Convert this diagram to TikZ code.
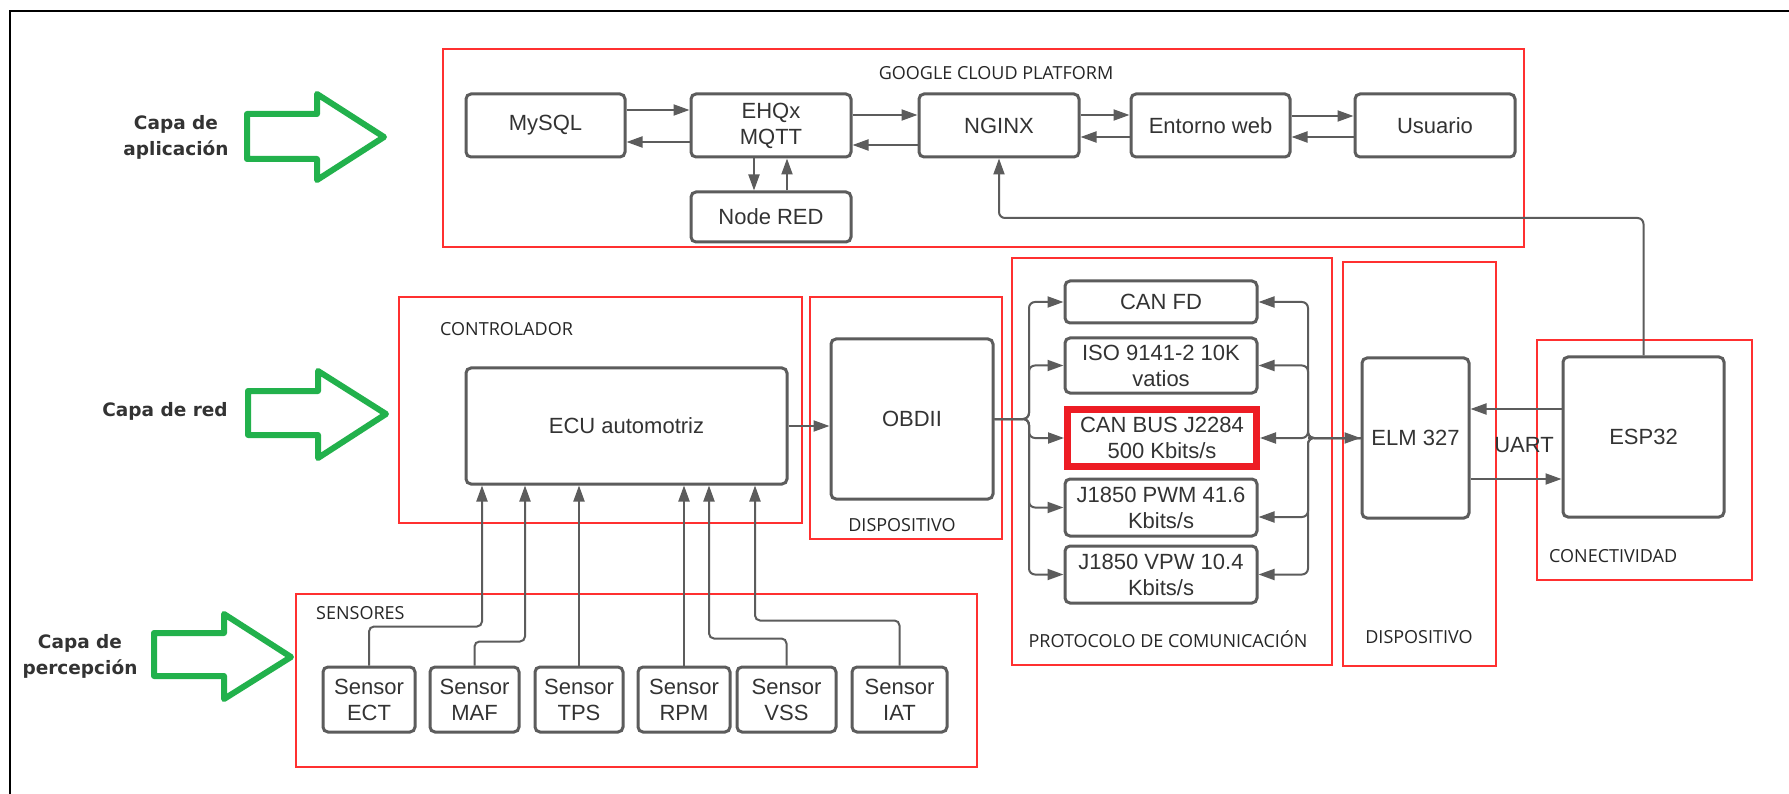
\documentclass[tikz,border=0pt]{standalone}
\usepackage{fontspec}
\setmainfont{Liberation Sans}
\newfontfamily\labfont{Open Sans}
\newfontfamily\capafont{DejaVu Sans}
\usetikzlibrary{arrows.meta}
\definecolor{boxgray}{HTML}{5C5C5C}
\definecolor{txt}{HTML}{333333}
\definecolor{grn}{HTML}{22B14C}
\definecolor{redc}{HTML}{FF3030}
\definecolor{canred}{HTML}{ED1C24}
\begin{document}
\begin{tikzpicture}[x=1pt,y=-1pt,
  blk/.style={draw=boxgray, line width=3pt, rounded corners=5pt, fill=white, text=txt, align=center, font=\fontsize{22}{26}\selectfont, inner sep=0pt},
  grp/.style={draw=redc, line width=1.4pt},
  lab/.style={font=\labfont\fontsize{18}{22}\selectfont, text=black!85, inner sep=0pt},
  arr/.style={draw=boxgray, line width=2pt, -{Triangle[length=16pt,width=11pt]}},
  capa/.style={font=\capafont\bfseries\fontsize{18.5}{26}\selectfont, text=txt, align=center},
  garrow/.style={draw=grn, line width=6pt, line join=round},
]
\useasboundingbox (0,0) rectangle (1789,794);
\fill[white] (0,0) rectangle (1789,794);
% outer frame
\draw[line width=2.5pt] (10,794) -- (10,11) -- (1789,11);

% group boxes
\draw[grp] (443,49) rectangle (1524,247);
\draw[grp] (399,297) rectangle (802,523);
\draw[grp] (810,297) rectangle (1002,539);
\draw[grp] (1012,258) rectangle (1332,665);
\draw[grp] (1343,262) rectangle (1496,666);
\draw[grp] (1537,340) rectangle (1752,580);
\draw[grp] (296,594) rectangle (977,767);

% group labels
\node[lab] (gcpl) at (996,73) {GOOGLE CLOUD PLATFORM};
\node[lab, anchor=west] (ctrll) at (440,329) {CONTROLADOR};
\node[lab] (d1l) at (902,525) {DISPOSITIVO};
\node[lab] (protl) at (1168,639) {PROTOCOLO DE COMUNICACIÓN};
\node[lab] (d2l) at (1419,637) {DISPOSITIVO};
\node[lab, anchor=west] (conl) at (1549,556) {CONECTIVIDAD};
\node[lab, anchor=west] (sensl) at (316,613) {SENSORES};

% layer labels and green arrows
\node[capa] (capa1) at (176,137) {Capa de\\aplicación};
\node[capa] (capa2) at (165,411) {Capa de red};
\node[capa] (capa3) at (80,656) {Capa de\\percepción};
\draw[garrow] (247,114) -- (317,114) -- (317,94) -- (384,137) -- (317,180) -- (317,159) -- (247,159) -- cycle;
\draw[garrow] (248,391) -- (318,391) -- (318,371) -- (386,414) -- (318,458) -- (318,435) -- (248,435) -- cycle;
\draw[garrow] (154,633) -- (224,633) -- (224,614) -- (291,657) -- (224,699) -- (224,676) -- (154,676) -- cycle;

% application layer
\node[blk, minimum width=159pt, minimum height=63pt] (mysql) at (545.5,125.5) {MySQL};
\node[blk, minimum width=160pt, minimum height=63pt] (ehqx) at (771,125.5) {EHQx\\MQTT};
\node[blk, minimum width=160pt, minimum height=63pt] (nginx) at (999,125.5) {NGINX};
\node[blk, minimum width=159pt, minimum height=63pt] (web) at (1210.5,125.5) {Entorno web};
\node[blk, minimum width=160pt, minimum height=63pt] (user) at (1435,125.5) {Usuario};
\node[blk, minimum width=160pt, minimum height=50pt] (nodered) at (771,217) {Node RED};

\draw[arr] ([yshift=15.5pt]mysql.east) -- ([yshift=15.5pt]ehqx.west);
\draw[arr] ([yshift=-16.5pt]ehqx.west) -- ([yshift=-16.5pt]mysql.east);
\draw[arr] ([yshift=10.5pt]ehqx.east) -- ([yshift=10.5pt]nginx.west);
\draw[arr] ([yshift=-19.5pt]nginx.west) -- ([yshift=-19.5pt]ehqx.east);
\draw[arr] ([yshift=10.5pt]nginx.east) -- ([yshift=10.5pt]web.west);
\draw[arr] ([yshift=-11.5pt]web.west) -- ([yshift=-11.5pt]nginx.east);
\draw[arr] ([yshift=9.5pt]web.east) -- ([yshift=9.5pt]user.west);
\draw[arr] ([yshift=-11.5pt]user.west) -- ([yshift=-11.5pt]web.east);
\draw[arr] ([xshift=-17pt]ehqx.south) -- ([xshift=-17pt]nodered.north);
\draw[arr] ([xshift=16pt]nodered.north) -- ([xshift=16pt]ehqx.south);

% network layer
\node[blk, minimum width=321pt, minimum height=116pt] (ecu) at (626.5,426) {ECU automotriz};
\node[blk, minimum width=162pt, minimum height=160pt] (obd) at (912,419) {OBDII};
\node[blk, minimum width=192pt, minimum height=42pt] (canfd) at (1161,302) {CAN FD};
\node[blk, minimum width=192pt, minimum height=55pt] (iso) at (1161,365.5) {ISO 9141-2 10K\\vatios};
\node[blk, draw=canred, line width=7pt, rounded corners=0pt, minimum width=189pt, minimum height=57pt] (canbus) at (1162,438) {CAN BUS J2284\\500 Kbits/s};
\node[blk, minimum width=192pt, minimum height=57pt] (pwm) at (1161,507.5) {J1850 PWM 41.6\\Kbits/s};
\node[blk, minimum width=192pt, minimum height=57pt] (vpw) at (1161,574.5) {J1850 VPW 10.4\\Kbits/s};
\node[blk, minimum width=107pt, minimum height=160pt] (elm) at (1415.5,438) {ELM 327};
\node[blk, minimum width=161pt, minimum height=160pt] (esp) at (1643.5,437) {ESP32};
\node[text=txt, font=\fontsize{22}{26}\selectfont, inner sep=0pt] (uart) at (1524,445) {UART};

\draw[arr] (ecu.east) -- (ecu.east -| obd.west);
\coordinate (jL) at (1029,419);
\foreach \b in {canfd,iso,canbus,pwm,vpw}
  \draw[arr, rounded corners=6pt] (obd.east) -- (jL) |- (\b.west);
\coordinate (jR) at (1308,438);
\draw[arr] (jR) -- (elm.west);
\foreach \b in {canfd,iso,canbus,vpw}
  \draw[arr, rounded corners=6pt] (elm.west) -- (jR) |- (\b.east);
\draw[arr, rounded corners=6pt] (elm.west) -- (jR) |- ([yshift=-9.5pt]pwm.east);

\coordinate (u1) at (0,409);
\coordinate (u2) at (0,479);
\draw[arr] (esp.west |- u1) -- (elm.east |- u1);
\draw[arr] (elm.east |- u2) -- (esp.west |- u2);
\draw[arr, rounded corners=6pt] (esp.north) -- ++(0,-137.5) -| (nginx.south);

% perception layer
\node[blk, minimum width=92pt, minimum height=65pt] (ect) at (369,699.5) {Sensor\\ECT};
\node[blk, minimum width=89pt, minimum height=65pt] (maf) at (474.5,699.5) {Sensor\\MAF};
\node[blk, minimum width=88pt, minimum height=65pt] (tps) at (579,699.5) {Sensor\\TPS};
\node[blk, minimum width=92pt, minimum height=65pt] (rpm) at (684,699.5) {Sensor\\RPM};
\node[blk, minimum width=99pt, minimum height=65pt] (vss) at (786.5,699.5) {Sensor\\VSS};
\node[blk, minimum width=95pt, minimum height=65pt] (iat) at (899.5,699.5) {Sensor\\IAT};

\draw[arr, rounded corners=5pt] (ect.north) -- ++(0,-39) -| ([xshift=17.5pt]ecu.south west);
\draw[arr, rounded corners=5pt] (maf.north) -- ++(0,-24) -| ([xshift=60.5pt]ecu.south west);
\draw[arr] (tps.north) -- (tps.north |- ecu.south);
\draw[arr] (rpm.north) -- (rpm.north |- ecu.south);
\draw[arr, rounded corners=5pt] (vss.north) -- ++(0,-27) -| ([xshift=244.5pt]ecu.south west);
\draw[arr, rounded corners=5pt] (iat.north) -- ++(0,-45) -| ([xshift=290.5pt]ecu.south west);
\end{tikzpicture}
\end{document}
